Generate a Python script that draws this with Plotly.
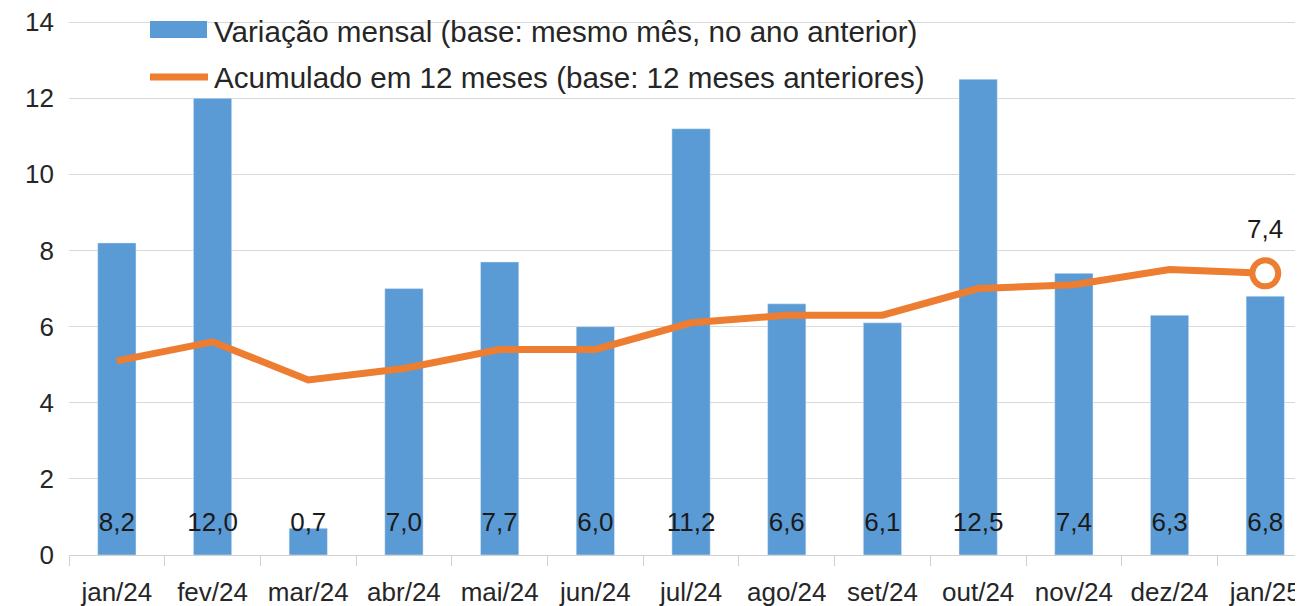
import plotly.graph_objects as go

categorias = ["jan/24", "fev/24", "mar/24", "abr/24", "mai/24", "jun/24", "jul/24",
              "ago/24", "set/24", "out/24", "nov/24", "dez/24", "jan/25"]
variacao_mensal = [8.2, 12.0, 0.7, 7.0, 7.7, 6.0, 11.2, 6.6, 6.1, 12.5, 7.4, 6.3, 6.8]
acumulado_12m = [5.1, 5.6, 4.6, 4.9, 5.4, 5.4, 6.1, 6.3, 6.3, 7.0, 7.1, 7.5, 7.4]
y_ticks = [0, 2, 4, 6, 8, 10, 12, 14]

nome_barra = "Variação mensal (base: mesmo mês, no ano anterior)"
nome_linha = "Acumulado em 12 meses (base: 12 meses anteriores)"

BLUE = "#5B9BD5"
ORANGE = "#ED7D31"
FONT = "Liberation Sans, Arial, sans-serif"
LABEL_Y = 0.8  # fixed height for bar value labels
Y_MAX = 14.03

def fmt(v):
    return f"{v:.1f}".replace(".", ",")

# page body has an 8px margin, so the figure is sized to the visible area
OFF = 8
W, H = 1303 - OFF, 606 - OFF
L, R, T, B = 69 - OFF, 0, 21 - OFF, 606 - 555
pw, ph = W - L - R, H - T - B
cat_w = 95.7

def px_x(p):  # screen px -> paper
    return (p - OFF - L) / pw

def px_y(p):
    return (H - B - (p - OFF)) / ph

fig = go.Figure()
fig.add_trace(go.Bar(x=categorias, y=variacao_mensal, marker_color=BLUE,
                     name=nome_barra, showlegend=False, hoverinfo="x+y"))
fig.add_trace(go.Scatter(x=categorias, y=acumulado_12m, mode="lines",
                         line=dict(color=ORANGE, width=7), name=nome_linha,
                         showlegend=False))
fig.add_trace(go.Scatter(x=[categorias[-1]], y=[acumulado_12m[-1]], mode="markers",
                         marker=dict(symbol="circle", size=26, color="white",
                                     line=dict(color=ORANGE, width=6)),
                         showlegend=False, hoverinfo="skip"))
fig.add_trace(go.Scatter(x=categorias, y=[LABEL_Y] * len(categorias), mode="text",
                         text=[fmt(v) for v in variacao_mensal],
                         textfont=dict(family=FONT, size=26, color="#1a1a1a"),
                         showlegend=False, hoverinfo="skip"))

fig.add_annotation(x=categorias[-1], y=acumulado_12m[-1], text=fmt(acumulado_12m[-1]),
                   showarrow=False, yshift=44,
                   font=dict(family=FONT, size=26, color="#1a1a1a"))

# manual legend
fig.add_shape(type="rect", xref="paper", yref="paper",
              x0=px_x(150), x1=px_x(207), y0=px_y(38), y1=px_y(21),
              fillcolor=BLUE, line=dict(width=0))
fig.add_shape(type="line", xref="paper", yref="paper",
              x0=px_x(150), x1=px_x(208), y0=px_y(77), y1=px_y(77),
              line=dict(color=ORANGE, width=7))
fig.add_annotation(xref="paper", yref="paper", x=px_x(212), y=px_y(31),
                   xanchor="left", yanchor="middle", showarrow=False,
                   text=nome_barra, font=dict(family=FONT, size=29.6, color="#262626"))
fig.add_annotation(xref="paper", yref="paper", x=px_x(212), y=px_y(77),
                   xanchor="left", yanchor="middle", showarrow=False,
                   text=nome_linha, font=dict(family=FONT, size=29.6, color="#262626"))

fig.update_layout(
    width=W, height=H,
    margin=dict(l=L, r=R, t=T, b=B, pad=0, autoexpand=False),
    plot_bgcolor="white", paper_bgcolor="white",
    bargap=0.6,
    font=dict(family=FONT, size=26, color="#262626"),
    xaxis=dict(range=[-0.5, -0.5 + pw / cat_w], showgrid=False,
               showline=True, linecolor="#d0d0d0", linewidth=1,
               ticks="outside", tickson="boundaries", ticklen=10, tickcolor="#d0d0d0",
               ticklabelstandoff=14, automargin=False, ticklabeloverflow="allow",
               tickfont=dict(family=FONT, size=26, color="#262626"), fixedrange=True),
    yaxis=dict(range=[0, Y_MAX], tickvals=y_ticks, ticktext=[str(v) for v in y_ticks],
               showgrid=True, gridcolor="#d9d9d9", gridwidth=1, zeroline=False,
               showline=False, ticks="", ticklabelstandoff=14, automargin=False,
               ticklabeloverflow="allow",
               tickfont=dict(family=FONT, size=26, color="#262626"), fixedrange=True),
)

fig.write_html("out.html")
